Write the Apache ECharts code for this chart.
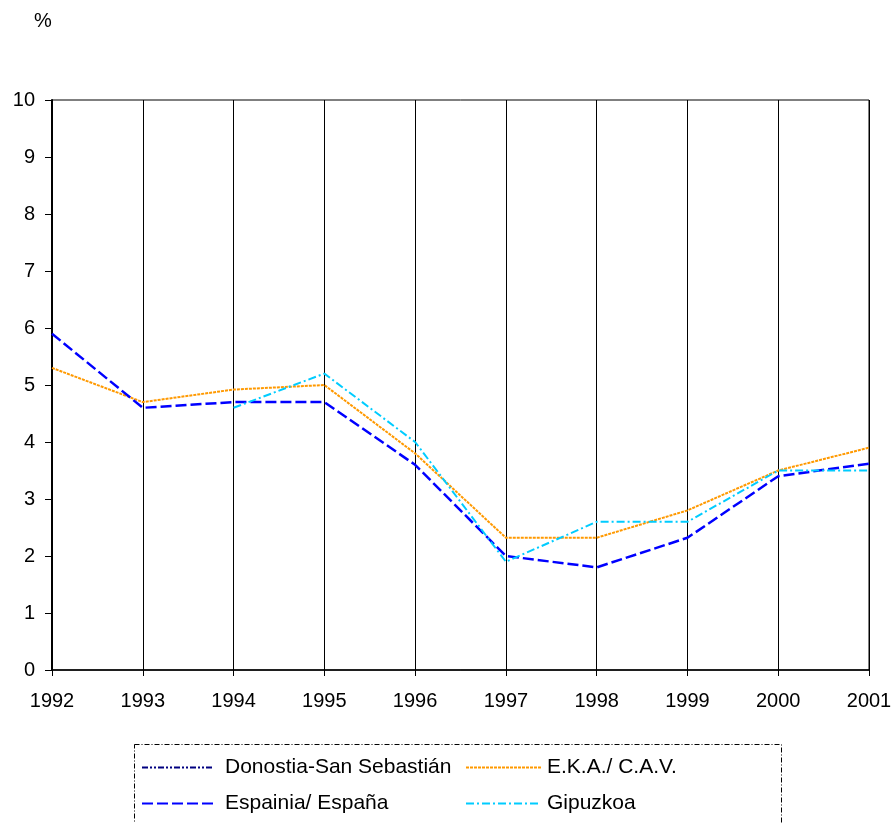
<!DOCTYPE html>
<html>
<head>
<meta charset="utf-8">
<script src="https://cdn.jsdelivr.net/npm/echarts@6/dist/echarts.min.js"></script>
<style>
  html, body { margin: 0; padding: 0; background: #fff; }
  #chart { width: 895px; height: 823px; }
</style>
</head>
<body>
<div id="chart"></div>
<script>
var years = ['1992', '1993', '1994', '1995', '1996', '1997', '1998', '1999', '2000', '2001'];

// Donostia-San Sebastián: no line visible in the picture
var donostia = [null, null, null, null, null, null, null, null, null, null];
var eka = [5.3, 4.7, 4.92, 5.0, 3.8, 2.32, 2.32, 2.8, 3.5, 3.9];
var espana = [5.9, 4.6, 4.7, 4.7, 3.6, 2.0, 1.8, 2.32, 3.4, 3.62];
var gipuzkoa = [null, null, 4.6, 5.2, 4.0, 1.9, 2.6, 2.6, 3.5, 3.5];

var font = 'Liberation Sans, Arial, sans-serif';

var chart = echarts.init(document.getElementById('chart'));

function lineSeries(name, data, color, dash, width){
    return {
        name: name,
        type: 'line',
        data: data,
        symbol: 'none',
        connectNulls: false,
        color: color,
        lineStyle: { color: color, width: width, type: dash },
        z: 3
    };
}

chart.setOption({
    animation: false,
    backgroundColor: '#fff',
    grid: {
        left: 52, right: 26, top: 100, bottom: 153,
        show: true, borderColor: '#000', borderWidth: 1
    },
    graphic: [
        {
            type: 'text', left: 34, top: 11,
            style: { text: '%', font: '20px ' + font, fill: '#000' }
        },
        {
            type: 'rect', shape: { x: 134.5, y: 744.5, width: 647, height: 100 },
            style: { fill: null, stroke: '#000', lineWidth: 1, lineDash: [5, 2, 1, 2] }
        }
    ],
    legend: [
        {
            data: ['Donostia-San Sebastián', 'Espainia/ España'],
            orient: 'vertical', left: 141, top: 757, itemGap: 15, padding: 0,
            itemWidth: 72, itemHeight: 10,
            itemStyle: { opacity: 0 },
            textStyle: { fontFamily: font, fontSize: 21, color: '#000', padding: [0, 0, 0, 6] }
        },
        {
            data: ['E.K.A./ C.A.V.', 'Gipuzkoa'],
            orient: 'vertical', left: 465, top: 757, itemGap: 15, padding: 0,
            itemWidth: 75, itemHeight: 10,
            itemStyle: { opacity: 0 },
            textStyle: { fontFamily: font, fontSize: 21, color: '#000', padding: [0, 0, 0, 1] }
        }
    ],
    xAxis: {
        type: 'category',
        data: years,
        boundaryGap: false,
        axisLine: { lineStyle: { color: '#000', width: 1.5 } },
        axisTick: { show: true, length: 6, lineStyle: { color: '#000' } },
        axisLabel: { fontFamily: font, fontSize: 20, color: '#000', margin: 21 },
        splitLine: { show: true, lineStyle: { color: '#000', width: 1 } }
    },
    yAxis: {
        type: 'value',
        min: 0, max: 10, interval: 1,
        axisLine: { show: true, lineStyle: { color: '#000', width: 2 } },
        axisTick: { show: true, length: 7, lineStyle: { color: '#000' } },
        axisLabel: { fontFamily: font, fontSize: 20, color: '#000', margin: 17 },
        splitLine: { show: false }
    },
    series: [
        lineSeries('Donostia-San Sebastián', donostia, '#000080', [6, 2, 2, 2, 2, 2], 2),
        lineSeries('E.K.A./ C.A.V.', eka, '#ff9900', [3, 1], 2),
        lineSeries('Espainia/ España', espana, '#0000ff', [11, 4], 2.5),
        lineSeries('Gipuzkoa', gipuzkoa, '#00ccff', [8, 3, 2, 3], 2)
    ]
});
</script>
</body>
</html>
